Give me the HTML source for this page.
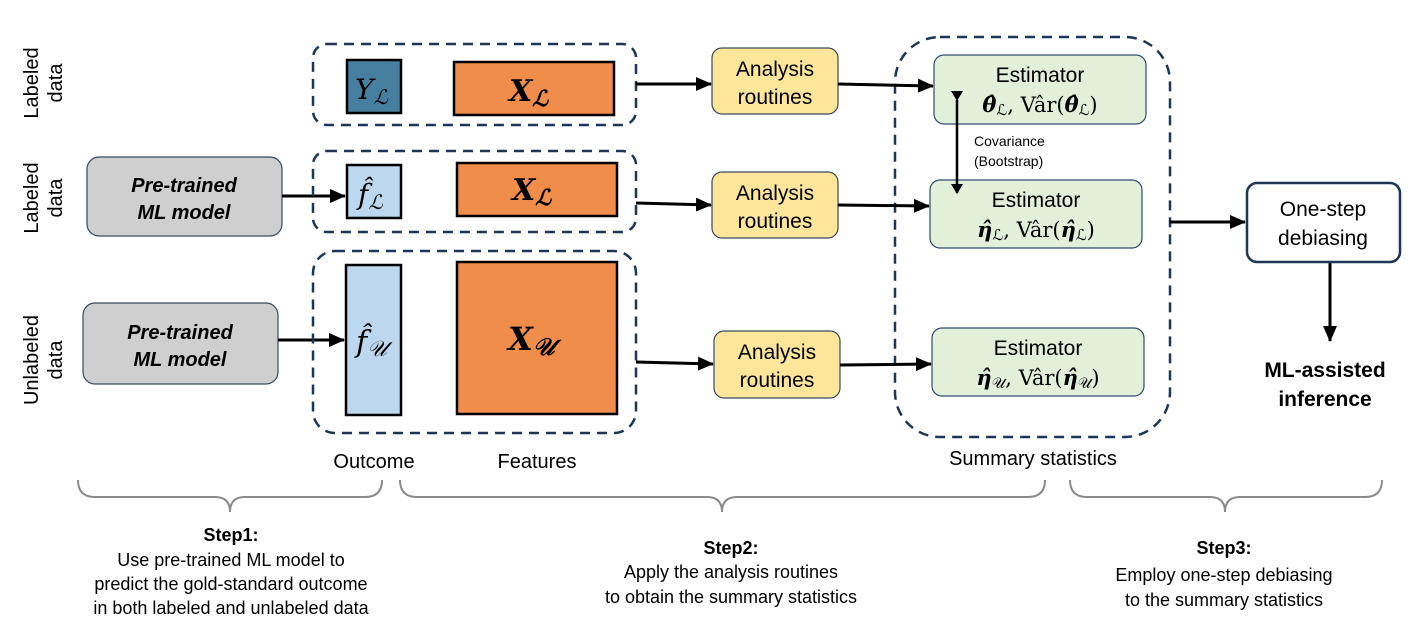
<!DOCTYPE html>
<html><head><meta charset="utf-8"><style>
body{margin:0;background:#fff}
svg{display:block}
text{font-family:"Liberation Sans",sans-serif}
.m{font-family:"DejaVu Serif","Liberation Serif",serif}
</style></head><body>
<svg width="1412" height="635" viewBox="0 0 1412 635" xmlns="http://www.w3.org/2000/svg">
<defs>
<marker id="a" markerWidth="10" markerHeight="12" refX="9" refY="6" orient="auto" markerUnits="userSpaceOnUse" viewBox="0 0 10 12"><path d="M0,0 L10,6 L0,12 z" fill="#000"/></marker>
<marker id="a2" markerWidth="16" markerHeight="16" refX="15" refY="8" orient="auto" markerUnits="userSpaceOnUse" viewBox="0 0 16 16"><path d="M0,1 L16,8 L0,15 z" fill="#000"/></marker>
</defs>
<g font-size="20" fill="#000">
<text transform="translate(38,83) rotate(-90)" text-anchor="middle">Labeled</text>
<text transform="translate(62,83) rotate(-90)" text-anchor="middle">data</text>
<text transform="translate(38,198) rotate(-90)" text-anchor="middle">Labeled</text>
<text transform="translate(62,198) rotate(-90)" text-anchor="middle">data</text>
<text transform="translate(38,360) rotate(-90)" text-anchor="middle">Unlabeled</text>
<text transform="translate(62,360) rotate(-90)" text-anchor="middle">data</text>
</g>
<rect x="87" y="157" width="195" height="79" rx="12" fill="#d0cfd0" stroke="#3a4a5e" stroke-width="1.2"/>
<text x="184" y="192" font-size="20" font-weight="bold" font-style="italic" text-anchor="middle">Pre-trained</text>
<text x="184" y="219" font-size="20" font-weight="bold" font-style="italic" text-anchor="middle">ML model</text>
<rect x="83" y="303" width="195" height="81" rx="12" fill="#d0cfd0" stroke="#3a4a5e" stroke-width="1.2"/>
<text x="180" y="339" font-size="20" font-weight="bold" font-style="italic" text-anchor="middle">Pre-trained</text>
<text x="180" y="366" font-size="20" font-weight="bold" font-style="italic" text-anchor="middle">ML model</text>
<line x1="282" y1="196" x2="345" y2="196" stroke="#000" stroke-width="3" marker-end="url(#a2)"/>
<line x1="278" y1="340" x2="344" y2="340" stroke="#000" stroke-width="3" marker-end="url(#a2)"/>
<g fill="none" stroke="#1f3556" stroke-width="2.5" stroke-dasharray="10,7">
<rect x="313" y="44" width="323" height="81" rx="14"/>
<rect x="313" y="151" width="323" height="81" rx="14"/>
<rect x="313" y="251" width="323" height="182" rx="22"/>
<rect x="895" y="37" width="275" height="400" rx="45"/>
</g>
<g stroke="#000" stroke-width="2.5">
<rect x="347" y="60" width="54" height="53" fill="#467fa0"/>
<rect x="454" y="62" width="160" height="53" fill="#f08d4a"/>
<rect x="347" y="165" width="54" height="53" fill="#bdd7ee"/>
<rect x="457" y="163" width="160" height="53" fill="#f08d4a"/>
<rect x="346" y="265" width="55" height="150" fill="#bdd7ee"/>
<rect x="457" y="262" width="160" height="152" fill="#f08d4a"/>
</g>
<g font-style="italic">
<text x="355" y="99" font-size="28" class="m">Y<tspan font-size="20" dy="5">ℒ</tspan></text>
<text x="509" y="101" font-size="30" font-weight="bold" class="m">X<tspan font-size="22" dy="5">ℒ</tspan></text>
<text x="358" y="204" font-size="28" class="m">f̂<tspan font-size="20" dy="5">ℒ</tspan></text>
<text x="512" y="200" font-size="30" font-weight="bold" class="m">X<tspan font-size="22" dy="5">ℒ</tspan></text>
<text x="356" y="352" font-size="30" class="m">f̂<tspan font-size="22" dy="4">𝒰</tspan></text>
<text x="508" y="350" font-size="32" font-weight="bold" class="m">X<tspan font-size="24" dy="5">𝒰</tspan></text>
</g>
<g fill="#fde59a" stroke="#3a4a5e" stroke-width="1.2">
<rect x="712" y="48" width="126" height="66" rx="10"/>
<rect x="712" y="172" width="126" height="66" rx="10"/>
<rect x="714" y="331" width="126" height="67" rx="10"/>
</g>
<g font-size="21" text-anchor="middle">
<text x="775" y="76">Analysis</text><text x="775" y="104">routines</text>
<text x="775" y="200">Analysis</text><text x="775" y="228">routines</text>
<text x="777" y="359">Analysis</text><text x="777" y="387">routines</text>
</g>
<g stroke="#000" stroke-width="3">
<line x1="636" y1="84" x2="711" y2="84" marker-end="url(#a2)"/>
<line x1="636" y1="203" x2="711" y2="205" marker-end="url(#a2)"/>
<line x1="636" y1="362" x2="713" y2="364" marker-end="url(#a2)"/>
<line x1="838" y1="84" x2="933" y2="86" marker-end="url(#a2)"/>
<line x1="838" y1="205" x2="929" y2="206" marker-end="url(#a2)"/>
<line x1="840" y1="365" x2="931" y2="364" marker-end="url(#a2)"/>
<line x1="1170" y1="222" x2="1245" y2="222" marker-end="url(#a2)"/>
<line x1="1330" y1="262" x2="1330" y2="341" marker-end="url(#a2)"/>
</g>
<g fill="#e2efd9" stroke="#2e4a6e" stroke-width="1.2">
<rect x="934" y="55" width="212" height="69" rx="10"/>
<rect x="930" y="180" width="212" height="68" rx="10"/>
<rect x="932" y="328" width="212" height="68" rx="10"/>
</g>
<g font-size="21" text-anchor="middle">
<text x="1040" y="82">Estimator</text>
<text x="1036" y="207">Estimator</text>
<text x="1038" y="355">Estimator</text>
</g>
<g font-size="21" text-anchor="middle">
<text x="1040" y="112" class="m"><tspan font-weight="bold" font-style="italic">θ̂</tspan><tspan font-size="15" dy="3">ℒ</tspan><tspan dy="-3">, </tspan>Vâr(<tspan font-weight="bold" font-style="italic">θ̂</tspan><tspan font-size="15" dy="3">ℒ</tspan><tspan dy="-3">)</tspan></text>
<text x="1036" y="237" class="m"><tspan font-weight="bold" font-style="italic">η̂</tspan><tspan font-size="15" dy="3">ℒ</tspan><tspan dy="-3">, </tspan>Vâr(<tspan font-weight="bold" font-style="italic">η̂</tspan><tspan font-size="15" dy="3">ℒ</tspan><tspan dy="-3">)</tspan></text>
<text x="1038" y="385" class="m"><tspan font-weight="bold" font-style="italic">η̂</tspan><tspan font-size="15" dy="3">𝒰</tspan><tspan dy="-3">, </tspan>Vâr(<tspan font-weight="bold" font-style="italic">η̂</tspan><tspan font-size="15" dy="3">𝒰</tspan><tspan dy="-3">)</tspan></text>
</g>
<line x1="957" y1="100" x2="957" y2="193" stroke="#000" stroke-width="2.5" marker-start="url(#a)" marker-end="url(#a)"/>
<text x="974" y="146" font-size="14">Covariance</text>
<text x="974" y="166" font-size="14">(Bootstrap)</text>
<rect x="1247" y="183" width="153" height="79" rx="10" fill="#fff" stroke="#1f3556" stroke-width="2.5"/>
<text x="1323" y="216" font-size="21" text-anchor="middle">One-step</text>
<text x="1323" y="245" font-size="21" text-anchor="middle">debiasing</text>
<text x="1325" y="377" font-size="21" font-weight="bold" text-anchor="middle">ML-assisted</text>
<text x="1325" y="406" font-size="21" font-weight="bold" text-anchor="middle">inference</text>
<g font-size="20" text-anchor="middle">
<text x="374" y="468">Outcome</text>
<text x="537" y="468">Features</text>
<text x="1033" y="465">Summary statistics</text>
</g>
<g fill="none" stroke="#8a8a8a" stroke-width="2">
<path d="M78,480 Q78,497 95,497 L215,497 Q230,497 230,512 Q230,497 245,497 L365,497 Q382,497 382,480"/>
<path d="M400,480 Q400,497 417,497 L707,497 Q722,497 722,512 Q722,497 737,497 L1028,497 Q1045,497 1045,480"/>
<path d="M1070,480 Q1070,497 1087,497 L1210,497 Q1225,497 1225,512 Q1225,497 1240,497 L1365,497 Q1382,497 1382,480"/>
</g>
<g font-size="18" text-anchor="middle">
<text x="231" y="541" font-weight="bold">Step1:</text>
<text x="231" y="566">Use pre-trained ML model to</text>
<text x="231" y="590">predict the gold-standard outcome</text>
<text x="231" y="614">in both labeled and unlabeled data</text>
<text x="731" y="554" font-weight="bold">Step2:</text>
<text x="731" y="578">Apply the analysis routines</text>
<text x="731" y="603">to obtain the summary statistics</text>
<text x="1224" y="554" font-weight="bold">Step3:</text>
<text x="1224" y="581">Employ one-step debiasing</text>
<text x="1224" y="606">to the summary statistics</text>
</g>
</svg>
</body></html>
